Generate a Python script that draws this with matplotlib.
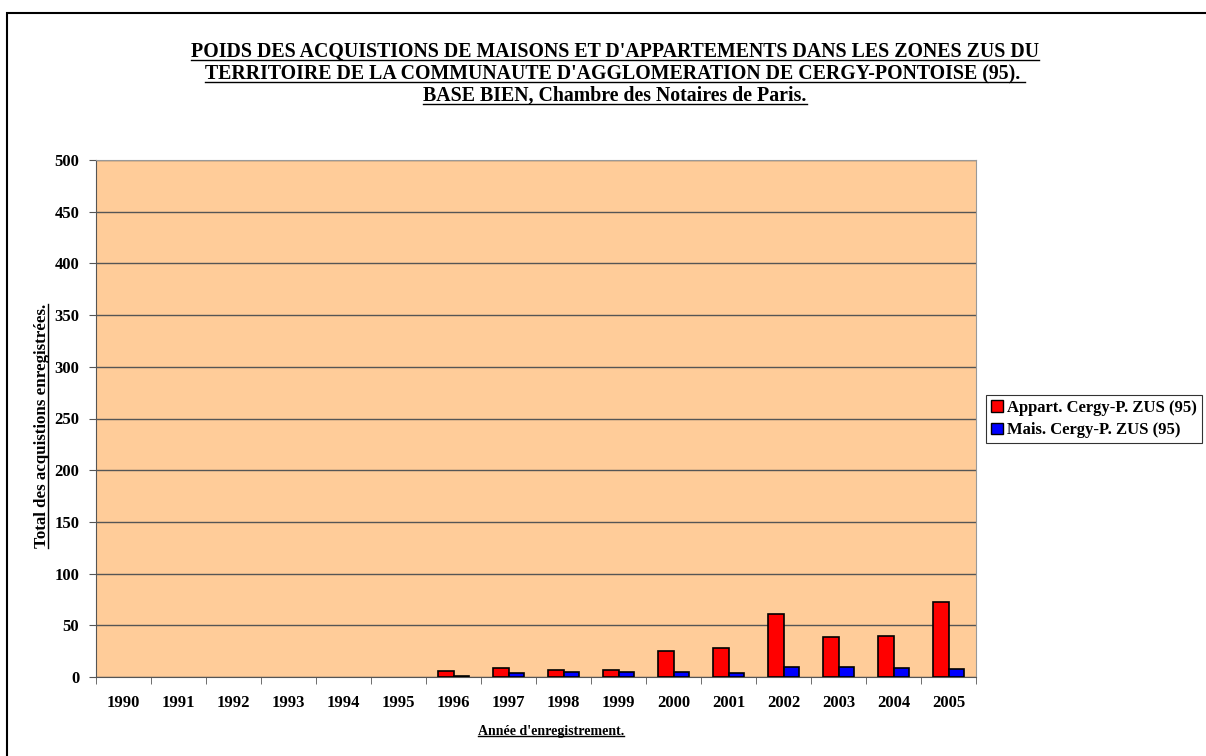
# Poids des acquisitions de maisons et d'appartements, ZUS Cergy-Pontoise

import numpy as np
from matplotlib import pyplot as plt
from matplotlib.lines import Line2D
from matplotlib.patches import Rectangle, Patch

plt.rcParams['font.family'] = 'Liberation Serif'
plt.rcParams['font.weight'] = 'bold'

years = ["1990", "1991", "1992", "1993", "1994", "1995", "1996", "1997",
         "1998", "1999", "2000", "2001", "2002", "2003", "2004", "2005"]
appart = [0, 0, 0, 0, 0, 0, 6, 9, 7, 7, 25, 28, 61, 39, 40, 73]
maisons = [0, 0, 0, 0, 0, 0, 1, 4, 5, 5, 5, 4, 10, 10, 9, 8]
labels = ["Appart. Cergy-P. ZUS (95)", "Mais. Cergy-P. ZUS (95)"]
colors = ["#FF0000", "#0000FF"]

title_lines = ["POIDS DES ACQUISTIONS DE MAISONS ET D'APPARTEMENTS DANS LES ZONES ZUS DU",
               "TERRITOIRE DE LA COMMUNAUTE D'AGGLOMERATION DE CERGY-PONTOISE (95). ",
               "BASE BIEN, Chambre des Notaires de Paris."]

W, H = 1206, 756
fig = plt.figure(figsize=(W / 100, H / 100), dpi=100)
ax = fig.add_axes([96 / W, 1 - 677 / H, 880 / W, 517 / H])
ax.set_facecolor("#FFCC99")

x = np.arange(len(years))
bw = 0.29
b1 = ax.bar(x - bw / 2, appart, bw, color=colors[0], edgecolor="black", linewidth=1.2, zorder=3)
b2 = ax.bar(x + bw / 2, maisons, bw, color=colors[1], edgecolor="black", linewidth=1.2, zorder=3)
# empty years show no bar at all
for p in list(b1) + list(b2):
    if p.get_height() == 0:
        p.set_visible(False)

ax.set_xlim(-0.5, len(years) - 0.5)
ax.set_ylim(0, 500)
ax.set_yticks(np.arange(0, 501, 50))
ax.yaxis.grid(True, color="#555555", linewidth=1.0, zorder=1)
ax.set_xticks(x)
ax.set_xticklabels(years, fontsize=12, fontweight='bold')
ax.set_xticks(np.arange(-0.5, len(years)), minor=True)
ax.tick_params(axis='x', which='major', length=0, pad=13)
ax.tick_params(axis='x', which='minor', length=5, color="#555555")
ax.tick_params(axis='y', length=5, color="#555555", labelsize=12, pad=7)
for lab in ax.get_yticklabels():
    lab.set_fontweight('bold')
for s in ['top', 'right']:
    ax.spines[s].set_color("#999999")
for s in ['left', 'bottom']:
    ax.spines[s].set_color("#555555")

handles = [Patch(facecolor=c, edgecolor="black", linewidth=1.0) for c in colors]
leg = ax.legend(handles, labels, loc='center left', bbox_to_anchor=(986 / W, 1 - 419 / H),
                bbox_transform=fig.transFigure, frameon=True, fancybox=False,
                edgecolor="black", prop={'weight': 'bold', 'size': 12},
                handlelength=0.7, handleheight=0.7, handletextpad=0.25,
                borderpad=0.3, labelspacing=0.4, borderaxespad=0)
leg.get_frame().set_linewidth(0.8)

texts = []
for i, line in enumerate(title_lines):
    t = fig.text(615 / W, 1 - (52 + 22 * i) / H, line, ha='center', va='center',
                 fontsize=14.3, fontweight='bold')
    texts.append(t)
xl = fig.text(551 / W, 1 - 731 / H, "Année d'enregistrement.", ha='center', va='center',
              fontsize=10, fontweight='bold')
yl = fig.text(42 / W, 1 - 426 / H, "Total des acquistions enregistrées.", ha='center',
              va='center', rotation=90, fontsize=12.2, fontweight='bold')

# underline texts
fig.canvas.draw()
r = fig.canvas.get_renderer()
inv = fig.transFigure.inverted()
for t in texts + [xl]:
    bb = t.get_window_extent(r)
    (x0, y0), (x1, y1) = inv.transform([(bb.x0, bb.y0 + 2), (bb.x1, bb.y0 + 2)])
    fig.add_artist(Line2D([x0, x1], [y0, y1], color="black", linewidth=1.0))
bb = yl.get_window_extent(r)
(x0, y0), (x1, y1) = inv.transform([(bb.x1 - 2, bb.y0), (bb.x1 - 2, bb.y1)])
fig.add_artist(Line2D([x0, x1], [y0, y1], color="black", linewidth=1.0))

# outer chart border
fig.add_artist(Rectangle((7 / W, -0.05), 1.1, 1 - 13 / H + 0.05, transform=fig.transFigure,
                         fill=False, edgecolor="black", linewidth=1.5))

plt.savefig("out.png", dpi=100)
